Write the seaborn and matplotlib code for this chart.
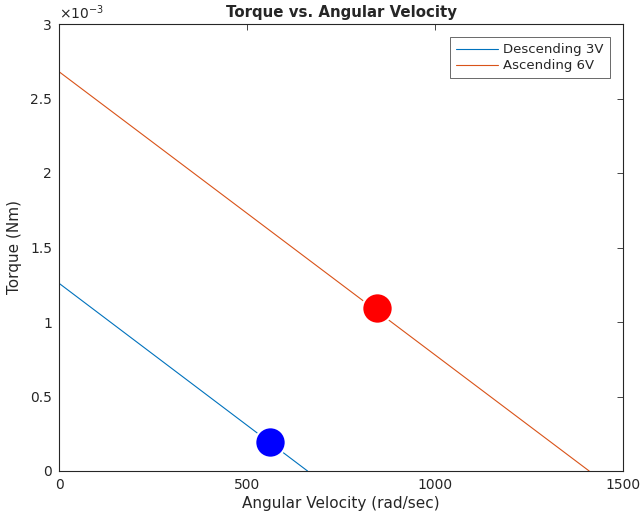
import matplotlib
matplotlib.use("Agg")
import matplotlib.pyplot as plt
import seaborn as sns
import pandas as pd

# Data
desc_x = [0, 661]
desc_y = [1.26e-3, 0.0]
asc_x = [0, 1410]
asc_y = [2.68e-3, 0.0]
pt_blue = (560, 0.195e-3)
pt_red = (846, 1.093e-3)
xticks = [0, 500, 1000, 1500]
yticks = [0, 0.5e-3, 1e-3, 1.5e-3, 2e-3, 2.5e-3, 3e-3]
ytick_labels = ["0", "0.5", "1", "1.5", "2", "2.5", "3"]

sns.set_style("white")
plt.rcParams['font.family'] = ['DejaVu Sans']

fig = plt.figure(figsize=(6.41, 5.15), dpi=100)
ax = fig.add_axes([59 / 641, 1 - 471 / 515, 564 / 641, 447 / 515])

df = pd.concat([
    pd.DataFrame({"x": desc_x, "y": desc_y, "series": "Descending 3V"}),
    pd.DataFrame({"x": asc_x, "y": asc_y, "series": "Ascending 6V"}),
])
sns.lineplot(data=df, x="x", y="y", hue="series",
             palette={"Descending 3V": "#0072BD", "Ascending 6V": "#D95319"},
             linewidth=0.8, ax=ax, sort=False)

sns.scatterplot(x=[pt_blue[0]], y=[pt_blue[1]], color="#0000FF", s=480,
                edgecolor="white", linewidth=1.5, ax=ax, legend=False, zorder=5)
sns.scatterplot(x=[pt_red[0]], y=[pt_red[1]], color="#FF0000", s=480,
                edgecolor="white", linewidth=1.5, ax=ax, legend=False, zorder=5)

ax.set_xlim(0, 1500)
ax.set_ylim(0, 3e-3)
ax.set_xticks(xticks)
ax.set_xticklabels([str(t) for t in xticks])
ax.set_yticks(yticks)
ax.set_yticklabels(ytick_labels)
ax.tick_params(direction="in", length=4, width=0.6, colors="#262626",
               labelsize=10, top=True, right=True, pad=5)
for s in ax.spines.values():
    s.set_color("#262626")
    s.set_linewidth(0.8)
    s.set_visible(True)

ax.set_xlabel("Angular Velocity (rad/sec)", fontsize=11, color="#262626", labelpad=3)
ax.set_ylabel("Torque (Nm)", fontsize=11, color="#262626", labelpad=6)
ax.set_title("Torque vs. Angular Velocity", fontsize=10.8, fontweight="bold", pad=5)
ax.text(0.0, 1.004, r"$\times10^{-3}$", transform=ax.transAxes, fontsize=10,
        color="#262626", ha="left", va="bottom")

leg = ax.legend(loc="upper right", fontsize=9.5, frameon=True, fancybox=False,
                borderaxespad=1.0, handlelength=3.2, borderpad=0.45, labelspacing=0.25,
                handletextpad=0.4)
leg.get_frame().set_edgecolor("#262626")
leg.get_frame().set_linewidth(0.6)
leg.set_title(None)

fig.savefig("out.png", dpi=100)
